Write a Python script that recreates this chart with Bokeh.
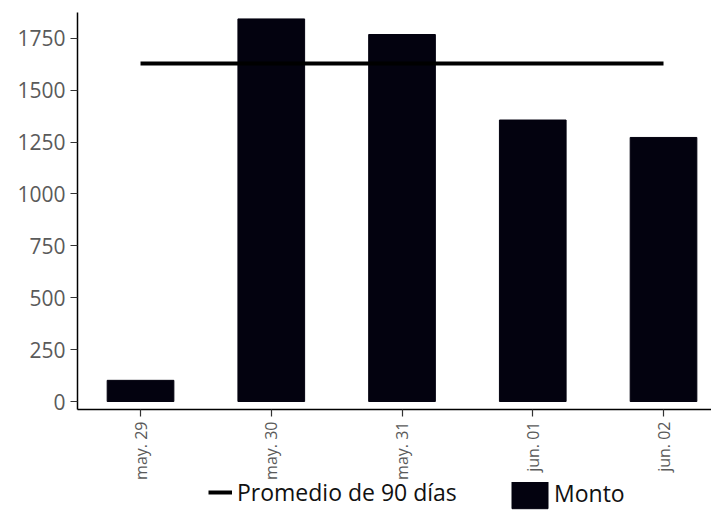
import math
from bokeh.plotting import figure
from bokeh.layouts import column
from bokeh.models import Range1d, FixedTicker, Legend, LegendItem, ColumnDataSource
from bokeh.embed import file_html
from bokeh.resources import INLINE

categories = ["may. 29", "may. 30", "may. 31", "jun. 01", "jun. 02"]
monto = [102, 1843, 1768, 1356, 1272]
promedio = [1628, 1628, 1628, 1628, 1628]
y_ticks = [0, 250, 500, 750, 1000, 1250, 1500, 1750]

BAR_COLOR = "#03020f"
FONT = "Open Sans"

xs = list(range(len(categories)))
src = ColumnDataSource(dict(x=xs, monto=monto, promedio=promedio))

p = figure(width=711, height=482, output_backend="svg", toolbar_location=None,
           x_range=Range1d(-0.482, 4.367), y_range=Range1d(-38.5, 1874),
           min_border_left=77, min_border_right=0, min_border_top=12, min_border_bottom=73)
p.outline_line_color = None
p.xgrid.visible = False
p.ygrid.visible = False

bars = p.vbar(x="x", top="monto", bottom=0, width=0.51, source=src,
              fill_color=BAR_COLOR, line_color=BAR_COLOR)
line = p.line(x="x", y="promedio", source=src, line_color="black", line_width=4)

p.yaxis.ticker = FixedTicker(ticks=y_ticks)
p.xaxis.ticker = FixedTicker(ticks=xs)
p.xaxis.major_label_overrides = {i: c for i, c in enumerate(categories)}
p.xaxis.major_label_orientation = math.pi / 2

for ax in (p.xaxis, p.yaxis):
    ax.axis_line_color = "black"
    ax.axis_line_width = 1.5
    ax.major_tick_line_color = "#333333"
    ax.major_tick_line_width = 1.2
    ax.major_tick_out = 7
    ax.major_tick_in = 0
    ax.minor_tick_line_color = None
    ax.major_label_text_font = FONT
    ax.major_label_text_color = "#5a5a5a"
    ax.major_label_standoff = 5

p.yaxis.major_label_text_font_size = "21px"
p.xaxis.major_label_text_font_size = "16px"

# legend strip below the chart (its frame is aligned with the main frame: left edge at x=77)
p2 = figure(width=711, height=35, output_backend="svg", toolbar_location=None,
            x_range=Range1d(-1000, -999), y_range=Range1d(-100000, -99999),
            x_axis_location=None, y_axis_location=None,
            min_border_left=0, min_border_right=0, min_border_top=0, min_border_bottom=0)
p2.outline_line_color = None
p2.xgrid.visible = False
p2.ygrid.visible = False
# same data as the chart, far outside this strip's ranges: only their legend glyphs show
leg_line = p2.line(x="x", y="promedio", source=src, line_color="black", line_width=4)
leg_bar = p2.vbar(x="x", top="monto", bottom=0, width=0.51, source=src,
                  fill_color=BAR_COLOR, line_color=BAR_COLOR)

common = dict(orientation="horizontal", label_text_font=FONT, label_text_font_size="23px",
              label_text_color="#111111", border_line_color=None,
              background_fill_alpha=0, padding=0, margin=0)
legend1 = Legend(items=[LegendItem(label="Promedio de 90 días", renderers=[leg_line])],
                 location=(131, 9), glyph_width=24, glyph_height=30, label_standoff=5, **common)
legend2 = Legend(items=[LegendItem(label="Monto", renderers=[leg_bar])],
                 location=(430, 5), glyph_width=45, glyph_height=38, label_standoff=2, **common)
p2.add_layout(legend1, "center")
p2.add_layout(legend2, "center")

layout = column(p, p2, spacing=0)
open("out.html", "w").write(file_html(layout, INLINE))
